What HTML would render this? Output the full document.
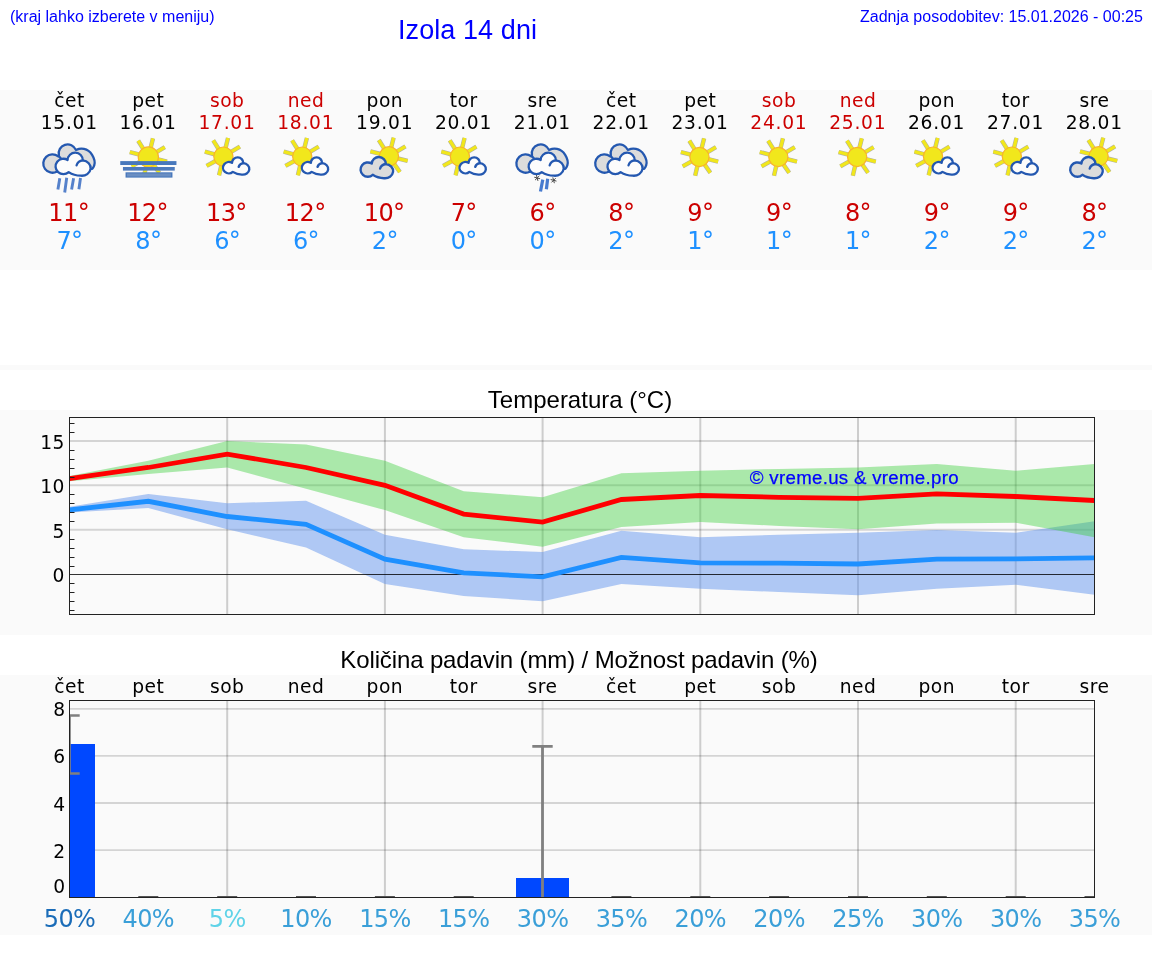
<!DOCTYPE html>
<html lang="sl"><head><meta charset="utf-8"><title>Izola 14 dni</title>
<style>
html,body{margin:0;padding:0;background:#fff}
body{width:1152px;height:975px;position:relative;overflow:hidden;font-family:"Liberation Sans",Arial,sans-serif}
.abs{position:absolute;white-space:nowrap;line-height:1;will-change:transform}
.hdr{color:#0000ff;font-size:16px}
.ttl{color:#000;font-size:24px;text-align:center;left:0;width:1152px}
.panel{position:absolute;left:0;width:1152px;background:#fafafa}
svg{position:absolute;left:0;top:0;overflow:visible;will-change:transform}
svg text{font-family:"DejaVu Sans","Liberation Sans",sans-serif}
.d{font-size:18.67px;text-anchor:middle;letter-spacing:0.5px}
.dt{letter-spacing:0.75px}
.t{font-size:24px;text-anchor:middle;letter-spacing:-0.6px}
.yl{font-size:18.67px;text-anchor:end;letter-spacing:0.4px}
</style></head><body>
<div class="abs hdr" id="h1" style="left:10px;top:9px">(kraj lahko izberete v meniju)</div>
<div class="abs hdr" id="h2" style="left:398.3px;top:17.4px;font-size:27px;letter-spacing:0.08px">Izola 14 dni</div>
<div class="abs hdr" id="h3" style="right:9px;top:9px">Zadnja posodobitev: 15.01.2026 - 00:25</div>
<div class="panel" style="top:90px;height:180px"></div>
<div class="panel" style="top:365px;height:5px"></div>
<div class="panel" style="top:410px;height:225px"></div>
<div class="panel" style="top:675px;height:260px"></div>
<div class="abs ttl" id="t1" style="top:388.3px;left:4.3px">Temperatura (°C)</div>
<div class="abs ttl" id="t2" style="top:648px;left:2.6px;letter-spacing:-0.13px">Količina padavin (mm) / Možnost padavin (%)</div>
<svg width="1152" height="975" viewBox="0 0 1152 975">
<g id="fc">
<text class="d" x="69.5" y="107.2" fill="#000">čet</text><text class="d dt" x="69.3" y="128.9" fill="#000">15.01</text><text class="t" x="68.7" y="221.3" fill="#cc0000">11°</text><text class="t" x="69.5" y="249.3" fill="#1e90ff">7°</text>
<text class="d" x="148.3" y="107.2" fill="#000">pet</text><text class="d dt" x="148.1" y="128.9" fill="#000">16.01</text><text class="t" x="147.5" y="221.3" fill="#cc0000">12°</text><text class="t" x="148.3" y="249.3" fill="#1e90ff">8°</text>
<text class="d" x="227.2" y="107.2" fill="#cc0000">sob</text><text class="d dt" x="227.0" y="128.9" fill="#cc0000">17.01</text><text class="t" x="226.4" y="221.3" fill="#cc0000">13°</text><text class="t" x="227.2" y="249.3" fill="#1e90ff">6°</text>
<text class="d" x="306.0" y="107.2" fill="#cc0000">ned</text><text class="d dt" x="305.8" y="128.9" fill="#cc0000">18.01</text><text class="t" x="305.2" y="221.3" fill="#cc0000">12°</text><text class="t" x="306.0" y="249.3" fill="#1e90ff">6°</text>
<text class="d" x="384.9" y="107.2" fill="#000">pon</text><text class="d dt" x="384.7" y="128.9" fill="#000">19.01</text><text class="t" x="384.1" y="221.3" fill="#cc0000">10°</text><text class="t" x="384.9" y="249.3" fill="#1e90ff">2°</text>
<text class="d" x="463.7" y="107.2" fill="#000">tor</text><text class="d dt" x="463.5" y="128.9" fill="#000">20.01</text><text class="t" x="463.7" y="221.3" fill="#cc0000">7°</text><text class="t" x="463.7" y="249.3" fill="#1e90ff">0°</text>
<text class="d" x="542.6" y="107.2" fill="#000">sre</text><text class="d dt" x="542.4" y="128.9" fill="#000">21.01</text><text class="t" x="542.6" y="221.3" fill="#cc0000">6°</text><text class="t" x="542.6" y="249.3" fill="#1e90ff">0°</text>
<text class="d" x="621.4" y="107.2" fill="#000">čet</text><text class="d dt" x="621.2" y="128.9" fill="#000">22.01</text><text class="t" x="621.4" y="221.3" fill="#cc0000">8°</text><text class="t" x="621.4" y="249.3" fill="#1e90ff">2°</text>
<text class="d" x="700.3" y="107.2" fill="#000">pet</text><text class="d dt" x="700.1" y="128.9" fill="#000">23.01</text><text class="t" x="700.3" y="221.3" fill="#cc0000">9°</text><text class="t" x="700.3" y="249.3" fill="#1e90ff">1°</text>
<text class="d" x="779.1" y="107.2" fill="#cc0000">sob</text><text class="d dt" x="778.9" y="128.9" fill="#cc0000">24.01</text><text class="t" x="779.1" y="221.3" fill="#cc0000">9°</text><text class="t" x="779.1" y="249.3" fill="#1e90ff">1°</text>
<text class="d" x="858.0" y="107.2" fill="#cc0000">ned</text><text class="d dt" x="857.8" y="128.9" fill="#cc0000">25.01</text><text class="t" x="858.0" y="221.3" fill="#cc0000">8°</text><text class="t" x="858.0" y="249.3" fill="#1e90ff">1°</text>
<text class="d" x="936.8" y="107.2" fill="#000">pon</text><text class="d dt" x="936.6" y="128.9" fill="#000">26.01</text><text class="t" x="936.8" y="221.3" fill="#cc0000">9°</text><text class="t" x="936.8" y="249.3" fill="#1e90ff">2°</text>
<text class="d" x="1015.7" y="107.2" fill="#000">tor</text><text class="d dt" x="1015.5" y="128.9" fill="#000">27.01</text><text class="t" x="1015.7" y="221.3" fill="#cc0000">9°</text><text class="t" x="1015.7" y="249.3" fill="#1e90ff">2°</text>
<text class="d" x="1094.5" y="107.2" fill="#000">sre</text><text class="d dt" x="1094.3" y="128.9" fill="#000">28.01</text><text class="t" x="1094.5" y="221.3" fill="#cc0000">8°</text><text class="t" x="1094.5" y="249.3" fill="#1e90ff">2°</text>
</g>
<g id="icons">
<g transform="translate(37.5 133)"><path d="M19.2 38.7A9.2 9.2 0 1 1 20.7 23.3L21.4 22.3A8.95 8.95 0 0 1 38.4 16.9L39.3 16.6C41.5 15.6 44 15.5 46.5 15.9C50 16.6 52.7 18.8 54.6 21.8C56.9 25.5 57.8 29.5 56.7 32.5C56.2 34 55.5 35 54.8 35.8L36 36Z" fill="#dcdcdc" stroke="#2458b0" stroke-width="2.3" stroke-linejoin="round"/><path d="M21 22.8L23.6 25.8" fill="none" stroke="#2458b0" stroke-width="2.3" stroke-linecap="round"/><path d="M31.2 39.1A7.8 7.7 0 1 1 30.1 27A7.6 7.5 0 0 1 45.3 27.4A8.8 7.7 0 1 1 43.3 42.7Q36.5 42.7 31.2 39.1Z" fill="#fcfcfc" stroke="#2458b0" stroke-width="2.3" stroke-linejoin="round"/><path d="M39.1 32.3C39.8 29.8 42 27.8 45.3 27.4" fill="none" stroke="#2458b0" stroke-width="2.3" stroke-linecap="round"/><path d="M22.3 45.3L20.4 56.5M29.2 44.7L27.2 59.5M36.1 45.3L34.1 56.5M43 45L41.4 56.2" stroke="#3d70c4" stroke-width="2.9" fill="none" stroke-opacity="0.88"/></g>
<g transform="translate(116.35 133)"><path d="M27.23 16.37L21.83 7.72M34.18 15.27L36.64 5.37M39.71 19.36L48.46 14.11M40.73 26.18L50.63 28.64M37.1 31.42L42.87 39.82M29.98 32.77L27.68 42.71M24.13 28.36L15.21 33.31M23.31 21.67L13.45 19.03" stroke="#8e8e84" stroke-opacity="0.7" stroke-width="4.4" fill="none"/><path d="M27.23 16.37L21.83 7.72M34.18 15.27L36.64 5.37M39.71 19.36L48.46 14.11M40.73 26.18L50.63 28.64M37.1 31.42L42.87 39.82M29.98 32.77L27.68 42.71M24.13 28.36L15.21 33.31M23.31 21.67L13.45 19.03" stroke="#f1e71c" stroke-width="3.3" fill="none"/><circle cx="32" cy="24" r="10.1" fill="#f1e71c" stroke="#f8b42c" stroke-width="1.2"/><rect x="3.9" y="28.1" width="56.2" height="3.9" fill="#4878bc"/><rect x="6.6" y="34" width="51.8" height="3.6" fill="#4d7abc"/><rect x="9.2" y="39.3" width="46.9" height="5.3" fill="#4878bc"/><rect x="10.6" y="40.4" width="44.1" height="3.1" fill="#6a8ec2"/></g>
<g transform="translate(195.19 133)"><path d="M23.43 15.97L18.03 7.32M30.38 14.87L32.84 4.97M35.91 18.96L44.66 13.71M26.18 32.37L23.88 42.31M20.33 27.96L11.41 32.91M19.51 21.27L9.65 18.63" stroke="#8e8e84" stroke-opacity="0.7" stroke-width="4.4" fill="none"/><path d="M23.43 15.97L18.03 7.32M30.38 14.87L32.84 4.97M35.91 18.96L44.66 13.71M26.18 32.37L23.88 42.31M20.33 27.96L11.41 32.91M19.51 21.27L9.65 18.63" stroke="#f1e71c" stroke-width="3.3" fill="none"/><circle cx="28.2" cy="23.6" r="9.6" fill="#f1e71c" stroke="#f8b42c" stroke-width="1.2"/><path d="M37.61 38.89A5.81 5.74 0 1 1 36.79 29.87A5.66 5.59 0 0 1 48.11 30.17A6.56 5.74 0 1 1 46.62 41.57Q41.56 41.57 37.61 38.89Z" fill="#fcfcfc" stroke="#2458b0" stroke-width="2.35" stroke-linejoin="round"/><path d="M43.5 33.82C44.02 31.96 45.66 30.47 48.11 30.17" fill="none" stroke="#2458b0" stroke-width="2.35" stroke-linecap="round"/></g>
<g transform="translate(274.04 133)"><path d="M23.43 15.97L18.03 7.32M30.38 14.87L32.84 4.97M35.91 18.96L44.66 13.71M26.18 32.37L23.88 42.31M20.33 27.96L11.41 32.91M19.51 21.27L9.65 18.63" stroke="#8e8e84" stroke-opacity="0.7" stroke-width="4.4" fill="none"/><path d="M23.43 15.97L18.03 7.32M30.38 14.87L32.84 4.97M35.91 18.96L44.66 13.71M26.18 32.37L23.88 42.31M20.33 27.96L11.41 32.91M19.51 21.27L9.65 18.63" stroke="#f1e71c" stroke-width="3.3" fill="none"/><circle cx="28.2" cy="23.6" r="9.6" fill="#f1e71c" stroke="#f8b42c" stroke-width="1.2"/><path d="M37.61 38.89A5.81 5.74 0 1 1 36.79 29.87A5.66 5.59 0 0 1 48.11 30.17A6.56 5.74 0 1 1 46.62 41.57Q41.56 41.57 37.61 38.89Z" fill="#fcfcfc" stroke="#2458b0" stroke-width="2.35" stroke-linejoin="round"/><path d="M43.5 33.82C44.02 31.96 45.66 30.47 48.11 30.17" fill="none" stroke="#2458b0" stroke-width="2.35" stroke-linecap="round"/></g>
<g transform="translate(352.88 133)"><path d="M31.33 15.67L25.93 7.02M38.28 14.57L40.74 4.67M43.81 18.66L52.56 13.41M44.83 25.48L54.73 27.94M41.2 30.72L46.97 39.12M27.41 20.97L17.55 18.33" stroke="#8e8e84" stroke-opacity="0.7" stroke-width="4.4" fill="none"/><path d="M31.33 15.67L25.93 7.02M38.28 14.57L40.74 4.67M43.81 18.66L52.56 13.41M44.83 25.48L54.73 27.94M41.2 30.72L46.97 39.12M27.41 20.97L17.55 18.33" stroke="#f1e71c" stroke-width="3.3" fill="none"/><circle cx="36.1" cy="23.3" r="9.6" fill="#f1e71c" stroke="#f8b42c" stroke-width="1.2"/><path d="M19.87 41.85A7.25 7.16 0 1 1 18.85 30.59A7.07 6.98 0 0 1 32.98 30.97A8.18 7.16 0 1 1 31.12 45.2Q24.8 45.2 19.87 41.85Z" fill="#dcdcdc" stroke="#2458b0" stroke-width="2.4" stroke-linejoin="round"/><path d="M27.22 35.52C27.87 33.2 29.91 31.34 32.98 30.97" fill="none" stroke="#2458b0" stroke-width="2.4" stroke-linecap="round"/></g>
<g transform="translate(431.73 133)"><path d="M23.43 15.97L18.03 7.32M30.38 14.87L32.84 4.97M35.91 18.96L44.66 13.71M26.18 32.37L23.88 42.31M20.33 27.96L11.41 32.91M19.51 21.27L9.65 18.63" stroke="#8e8e84" stroke-opacity="0.7" stroke-width="4.4" fill="none"/><path d="M23.43 15.97L18.03 7.32M30.38 14.87L32.84 4.97M35.91 18.96L44.66 13.71M26.18 32.37L23.88 42.31M20.33 27.96L11.41 32.91M19.51 21.27L9.65 18.63" stroke="#f1e71c" stroke-width="3.3" fill="none"/><circle cx="28.2" cy="23.6" r="9.6" fill="#f1e71c" stroke="#f8b42c" stroke-width="1.2"/><path d="M37.61 38.89A5.81 5.74 0 1 1 36.79 29.87A5.66 5.59 0 0 1 48.11 30.17A6.56 5.74 0 1 1 46.62 41.57Q41.56 41.57 37.61 38.89Z" fill="#fcfcfc" stroke="#2458b0" stroke-width="2.35" stroke-linejoin="round"/><path d="M43.5 33.82C44.02 31.96 45.66 30.47 48.11 30.17" fill="none" stroke="#2458b0" stroke-width="2.35" stroke-linecap="round"/></g>
<g transform="translate(510.58 133)"><path d="M19.2 38.7A9.2 9.2 0 1 1 20.7 23.3L21.4 22.3A8.95 8.95 0 0 1 38.4 16.9L39.3 16.6C41.5 15.6 44 15.5 46.5 15.9C50 16.6 52.7 18.8 54.6 21.8C56.9 25.5 57.8 29.5 56.7 32.5C56.2 34 55.5 35 54.8 35.8L36 36Z" fill="#dcdcdc" stroke="#2458b0" stroke-width="2.3" stroke-linejoin="round"/><path d="M21 22.8L23.6 25.8" fill="none" stroke="#2458b0" stroke-width="2.3" stroke-linecap="round"/><path d="M31.2 39.1A7.8 7.7 0 1 1 30.1 27A7.6 7.5 0 0 1 45.3 27.4A8.8 7.7 0 1 1 43.3 42.7Q36.5 42.7 31.2 39.1Z" fill="#fcfcfc" stroke="#2458b0" stroke-width="2.3" stroke-linejoin="round"/><path d="M39.1 32.3C39.8 29.8 42 27.8 45.3 27.4" fill="none" stroke="#2458b0" stroke-width="2.3" stroke-linecap="round"/><path d="M32.2 46.6L29.9 58.5M37.1 45.7L35.8 56.2" stroke="#3d74cc" stroke-width="3.2" fill="none" stroke-opacity="0.95"/><path d="M23.7 44.22L29.5 45.78M25.82 42.1L27.38 47.9M28.72 42.88L24.48 47.12" stroke="#4a4a4a" stroke-width="1" fill="none"/><path d="M40.1 46.52L45.9 48.08M42.22 44.4L43.78 50.2M45.12 45.18L40.88 49.42" stroke="#4a4a4a" stroke-width="1" fill="none"/></g>
<g transform="translate(589.42 133)"><path d="M19.2 38.7A9.2 9.2 0 1 1 20.7 23.3L21.4 22.3A8.95 8.95 0 0 1 38.4 16.9L39.3 16.6C41.5 15.6 44 15.5 46.5 15.9C50 16.6 52.7 18.8 54.6 21.8C56.9 25.5 57.8 29.5 56.7 32.5C56.2 34 55.5 35 54.8 35.8L36 36Z" fill="#dcdcdc" stroke="#2458b0" stroke-width="2.3" stroke-linejoin="round"/><path d="M21 22.8L23.6 25.8" fill="none" stroke="#2458b0" stroke-width="2.3" stroke-linecap="round"/><path d="M31.2 39.1A7.8 7.7 0 1 1 30.1 27A7.6 7.5 0 0 1 45.3 27.4A8.8 7.7 0 1 1 43.3 42.7Q36.5 42.7 31.2 39.1Z" fill="#fcfcfc" stroke="#2458b0" stroke-width="2.3" stroke-linejoin="round"/><path d="M39.1 32.3C39.8 29.8 42 27.8 45.3 27.4" fill="none" stroke="#2458b0" stroke-width="2.3" stroke-linecap="round"/></g>
<g transform="translate(668.27 133)"><path d="M26.43 16.37L21.03 7.72M33.38 15.27L35.84 5.37M38.91 19.36L47.66 14.11M39.93 26.18L49.83 28.64M36.3 31.42L42.07 39.82M29.18 32.77L26.88 42.71M23.33 28.36L14.41 33.31M22.51 21.67L12.65 19.03" stroke="#8e8e84" stroke-opacity="0.7" stroke-width="4.4" fill="none"/><path d="M26.43 16.37L21.03 7.72M33.38 15.27L35.84 5.37M38.91 19.36L47.66 14.11M39.93 26.18L49.83 28.64M36.3 31.42L42.07 39.82M29.18 32.77L26.88 42.71M23.33 28.36L14.41 33.31M22.51 21.67L12.65 19.03" stroke="#f1e71c" stroke-width="3.3" fill="none"/><circle cx="31.2" cy="24" r="9.6" fill="#f1e71c" stroke="#f8b42c" stroke-width="1.2"/></g>
<g transform="translate(747.12 133)"><path d="M26.43 16.37L21.03 7.72M33.38 15.27L35.84 5.37M38.91 19.36L47.66 14.11M39.93 26.18L49.83 28.64M36.3 31.42L42.07 39.82M29.18 32.77L26.88 42.71M23.33 28.36L14.41 33.31M22.51 21.67L12.65 19.03" stroke="#8e8e84" stroke-opacity="0.7" stroke-width="4.4" fill="none"/><path d="M26.43 16.37L21.03 7.72M33.38 15.27L35.84 5.37M38.91 19.36L47.66 14.11M39.93 26.18L49.83 28.64M36.3 31.42L42.07 39.82M29.18 32.77L26.88 42.71M23.33 28.36L14.41 33.31M22.51 21.67L12.65 19.03" stroke="#f1e71c" stroke-width="3.3" fill="none"/><circle cx="31.2" cy="24" r="9.6" fill="#f1e71c" stroke="#f8b42c" stroke-width="1.2"/></g>
<g transform="translate(825.96 133)"><path d="M26.43 16.37L21.03 7.72M33.38 15.27L35.84 5.37M38.91 19.36L47.66 14.11M39.93 26.18L49.83 28.64M36.3 31.42L42.07 39.82M29.18 32.77L26.88 42.71M23.33 28.36L14.41 33.31M22.51 21.67L12.65 19.03" stroke="#8e8e84" stroke-opacity="0.7" stroke-width="4.4" fill="none"/><path d="M26.43 16.37L21.03 7.72M33.38 15.27L35.84 5.37M38.91 19.36L47.66 14.11M39.93 26.18L49.83 28.64M36.3 31.42L42.07 39.82M29.18 32.77L26.88 42.71M23.33 28.36L14.41 33.31M22.51 21.67L12.65 19.03" stroke="#f1e71c" stroke-width="3.3" fill="none"/><circle cx="31.2" cy="24" r="9.6" fill="#f1e71c" stroke="#f8b42c" stroke-width="1.2"/></g>
<g transform="translate(904.81 133)"><path d="M23.43 15.97L18.03 7.32M30.38 14.87L32.84 4.97M35.91 18.96L44.66 13.71M26.18 32.37L23.88 42.31M20.33 27.96L11.41 32.91M19.51 21.27L9.65 18.63" stroke="#8e8e84" stroke-opacity="0.7" stroke-width="4.4" fill="none"/><path d="M23.43 15.97L18.03 7.32M30.38 14.87L32.84 4.97M35.91 18.96L44.66 13.71M26.18 32.37L23.88 42.31M20.33 27.96L11.41 32.91M19.51 21.27L9.65 18.63" stroke="#f1e71c" stroke-width="3.3" fill="none"/><circle cx="28.2" cy="23.6" r="9.6" fill="#f1e71c" stroke="#f8b42c" stroke-width="1.2"/><path d="M37.61 38.89A5.81 5.74 0 1 1 36.79 29.87A5.66 5.59 0 0 1 48.11 30.17A6.56 5.74 0 1 1 46.62 41.57Q41.56 41.57 37.61 38.89Z" fill="#fcfcfc" stroke="#2458b0" stroke-width="2.35" stroke-linejoin="round"/><path d="M43.5 33.82C44.02 31.96 45.66 30.47 48.11 30.17" fill="none" stroke="#2458b0" stroke-width="2.35" stroke-linecap="round"/></g>
<g transform="translate(983.65 133)"><path d="M23.43 15.97L18.03 7.32M30.38 14.87L32.84 4.97M35.91 18.96L44.66 13.71M26.18 32.37L23.88 42.31M20.33 27.96L11.41 32.91M19.51 21.27L9.65 18.63" stroke="#8e8e84" stroke-opacity="0.7" stroke-width="4.4" fill="none"/><path d="M23.43 15.97L18.03 7.32M30.38 14.87L32.84 4.97M35.91 18.96L44.66 13.71M26.18 32.37L23.88 42.31M20.33 27.96L11.41 32.91M19.51 21.27L9.65 18.63" stroke="#f1e71c" stroke-width="3.3" fill="none"/><circle cx="28.2" cy="23.6" r="9.6" fill="#f1e71c" stroke="#f8b42c" stroke-width="1.2"/><path d="M37.61 38.89A5.81 5.74 0 1 1 36.79 29.87A5.66 5.59 0 0 1 48.11 30.17A6.56 5.74 0 1 1 46.62 41.57Q41.56 41.57 37.61 38.89Z" fill="#fcfcfc" stroke="#2458b0" stroke-width="2.35" stroke-linejoin="round"/><path d="M43.5 33.82C44.02 31.96 45.66 30.47 48.11 30.17" fill="none" stroke="#2458b0" stroke-width="2.35" stroke-linecap="round"/></g>
<g transform="translate(1062.5 133)"><path d="M31.33 15.67L25.93 7.02M38.28 14.57L40.74 4.67M43.81 18.66L52.56 13.41M44.83 25.48L54.73 27.94M41.2 30.72L46.97 39.12M27.41 20.97L17.55 18.33" stroke="#8e8e84" stroke-opacity="0.7" stroke-width="4.4" fill="none"/><path d="M31.33 15.67L25.93 7.02M38.28 14.57L40.74 4.67M43.81 18.66L52.56 13.41M44.83 25.48L54.73 27.94M41.2 30.72L46.97 39.12M27.41 20.97L17.55 18.33" stroke="#f1e71c" stroke-width="3.3" fill="none"/><circle cx="36.1" cy="23.3" r="9.6" fill="#f1e71c" stroke="#f8b42c" stroke-width="1.2"/><path d="M19.87 41.85A7.25 7.16 0 1 1 18.85 30.59A7.07 6.98 0 0 1 32.98 30.97A8.18 7.16 0 1 1 31.12 45.2Q24.8 45.2 19.87 41.85Z" fill="#dcdcdc" stroke="#2458b0" stroke-width="2.4" stroke-linejoin="round"/><path d="M27.22 35.52C27.87 33.2 29.91 31.34 32.98 30.97" fill="none" stroke="#2458b0" stroke-width="2.4" stroke-linecap="round"/></g>
</g>
<g id="tchart">
<line x1="69.5" x2="1094.5" y1="529.7" y2="529.7" stroke="#000" stroke-opacity="0.15" stroke-width="2"/><line x1="69.5" x2="1094.5" y1="485.3" y2="485.3" stroke="#000" stroke-opacity="0.15" stroke-width="2"/><line x1="69.5" x2="1094.5" y1="440.9" y2="440.9" stroke="#000" stroke-opacity="0.15" stroke-width="2"/><line x1="227.2" x2="227.2" y1="417.5" y2="614.5" stroke="#000" stroke-opacity="0.18" stroke-width="2"/><line x1="384.9" x2="384.9" y1="417.5" y2="614.5" stroke="#000" stroke-opacity="0.18" stroke-width="2"/><line x1="542.6" x2="542.6" y1="417.5" y2="614.5" stroke="#000" stroke-opacity="0.18" stroke-width="2"/><line x1="700.3" x2="700.3" y1="417.5" y2="614.5" stroke="#000" stroke-opacity="0.18" stroke-width="2"/><line x1="858.0" x2="858.0" y1="417.5" y2="614.5" stroke="#000" stroke-opacity="0.18" stroke-width="2"/><line x1="1015.7" x2="1015.7" y1="417.5" y2="614.5" stroke="#000" stroke-opacity="0.18" stroke-width="2"/>
<polygon points="69.5,506.7 148.3,494.1 227.2,503.2 306.0,500.8 384.9,534.7 463.7,549.3 542.6,552.0 621.4,530.7 700.3,537.3 779.1,534.7 858.0,532.8 936.8,530.1 1015.7,532.8 1094.5,521.3 1094.5,594.7 1015.7,584.8 936.8,588.8 858.0,595.2 779.1,592.0 700.3,588.8 621.4,584.0 542.6,601.3 463.7,596.0 384.9,584.0 306.0,547.5 227.2,529.3 148.3,508.0 69.5,512.5" fill="#6495ed" fill-opacity="0.5"/>
<polygon points="69.5,476.0 148.3,460.8 227.2,441.0 306.0,444.5 384.9,460.8 463.7,491.2 542.6,497.3 621.4,473.3 700.3,470.7 779.1,469.0 858.0,467.5 936.8,464.0 1015.7,470.7 1094.5,464.0 1094.5,537.3 1015.7,522.7 936.8,523.5 858.0,529.3 779.1,526.0 700.3,521.9 621.4,526.9 542.6,546.7 463.7,537.3 384.9,510.1 306.0,488.8 227.2,467.5 148.3,473.9 69.5,481.3" fill="#32cd32" fill-opacity="0.4"/>
<line x1="69.5" x2="1094.5" y1="574.5" y2="574.5" stroke="#000" stroke-opacity="0.8" stroke-width="1"/>
<polyline points="69.5,478.7 148.3,467.5 227.2,454.1 306.0,467.5 384.9,485.3 463.7,514.1 542.6,522.1 621.4,499.5 700.3,495.5 779.1,497.3 858.0,498.4 936.8,493.9 1015.7,496.5 1094.5,500.5" fill="none" stroke="#ff0000" stroke-width="4.8" stroke-linejoin="miter"/>
<polyline points="69.5,509.9 148.3,501.3 227.2,516.5 306.0,524.3 384.9,559.2 463.7,572.8 542.6,576.8 621.4,557.3 700.3,562.9 779.1,563.2 858.0,564.0 936.8,559.2 1015.7,558.9 1094.5,557.9" fill="none" stroke="#1e90ff" stroke-width="4.8" stroke-linejoin="miter"/>
<path d="M69.5 610.5h5M69.5 601.5h5M69.5 592.5h5M69.5 583.5h5M69.5 566.5h5M69.5 557.5h5M69.5 548.5h5M69.5 539.5h5M69.5 521.5h5M69.5 512.5h5M69.5 503.5h5M69.5 494.5h5M69.5 477.5h5M69.5 468.5h5M69.5 459.5h5M69.5 450.5h5M69.5 432.5h5M69.5 423.5h5" stroke="#222" stroke-width="1" fill="none"/>
<rect x="69.5" y="417.5" width="1025.0" height="197.0" fill="none" stroke="#222" stroke-width="1"/>
<text class="yl" x="64.8" y="582.2">0</text><text class="yl" x="64.8" y="537.8">5</text><text class="yl" x="64.8" y="493.4">10</text><text class="yl" x="64.8" y="449.0">15</text>
<text x="749.8" y="483.5" fill="#0000ff" stroke="#0000ff" stroke-width="0.25" style="font-family:'Liberation Sans',Arial,sans-serif;font-size:18.67px;letter-spacing:0.3px">© vreme.us &amp; vreme.pro</text>
</g>
<g id="pchart">
<line x1="69.5" x2="1094.5" y1="850.1" y2="850.1" stroke="#000" stroke-opacity="0.15" stroke-width="1.8"/><line x1="69.5" x2="1094.5" y1="803.0" y2="803.0" stroke="#000" stroke-opacity="0.15" stroke-width="1.8"/><line x1="69.5" x2="1094.5" y1="755.9" y2="755.9" stroke="#000" stroke-opacity="0.15" stroke-width="1.8"/><line x1="69.5" x2="1094.5" y1="708.8" y2="708.8" stroke="#000" stroke-opacity="0.15" stroke-width="1.8"/><line x1="227.2" x2="227.2" y1="700.5" y2="897.5" stroke="#000" stroke-opacity="0.18" stroke-width="2"/><line x1="384.9" x2="384.9" y1="700.5" y2="897.5" stroke="#000" stroke-opacity="0.18" stroke-width="2"/><line x1="542.6" x2="542.6" y1="700.5" y2="897.5" stroke="#000" stroke-opacity="0.18" stroke-width="2"/><line x1="700.3" x2="700.3" y1="700.5" y2="897.5" stroke="#000" stroke-opacity="0.18" stroke-width="2"/><line x1="858.0" x2="858.0" y1="700.5" y2="897.5" stroke="#000" stroke-opacity="0.18" stroke-width="2"/><line x1="1015.7" x2="1015.7" y1="700.5" y2="897.5" stroke="#000" stroke-opacity="0.18" stroke-width="2"/>
<rect x="69.5" y="744" width="25.5" height="153.5" fill="#0048ff"/>
<rect x="516" y="878" width="53" height="19.5" fill="#0048ff"/>
<clipPath id="pc"><rect x="69.5" y="700.5" width="1025.0" height="197.0"/></clipPath>
<path clip-path="url(#pc)" d="M69.5 715.5V773.5M69.5 715.5h10.2M69.5 773.5h10.2" stroke="#808080" stroke-width="2.7" fill="none"/>
<path d="M542.5 746.4V897.5M532.3 746.4h20.4" stroke="#808080" stroke-width="2.8" fill="none"/>
<path d="M138.3 896.8h20M217.2 896.8h20M296.0 896.8h20M374.9 896.8h20M453.7 896.8h20M611.4 896.8h20M690.3 896.8h20M769.1 896.8h20M848.0 896.8h20M926.8 896.8h20M1005.7 896.8h20M1084.5 896.8h10" stroke="#555" stroke-width="1.4" fill="none"/>
<rect x="69.5" y="700.5" width="1025.0" height="197.0" fill="none" stroke="#222" stroke-width="1"/>
<text class="yl" x="65.6" y="857.6">2</text><text class="yl" x="65.6" y="810.5">4</text><text class="yl" x="65.6" y="763.4">6</text><text class="yl" x="65.6" y="716.3">8</text><text class="yl" x="65.6" y="893.2">0</text>
<text class="d" x="69.5" y="692.9">čet</text><text class="d" x="148.3" y="692.9">pet</text><text class="d" x="227.2" y="692.9">sob</text><text class="d" x="306.0" y="692.9">ned</text><text class="d" x="384.9" y="692.9">pon</text><text class="d" x="463.7" y="692.9">tor</text><text class="d" x="542.6" y="692.9">sre</text><text class="d" x="621.4" y="692.9">čet</text><text class="d" x="700.3" y="692.9">pet</text><text class="d" x="779.1" y="692.9">sob</text><text class="d" x="858.0" y="692.9">ned</text><text class="d" x="936.8" y="692.9">pon</text><text class="d" x="1015.7" y="692.9">tor</text><text class="d" x="1094.5" y="692.9">sre</text>
<text class="t" x="69.5" y="926.8" fill="#1a6cb8">50%</text><text class="t" x="148.3" y="926.8" fill="#3a9fd8">40%</text><text class="t" x="227.2" y="926.8" fill="#5fd3e8">5%</text><text class="t" x="306.0" y="926.8" fill="#3a9fd8">10%</text><text class="t" x="384.9" y="926.8" fill="#3a9fd8">15%</text><text class="t" x="463.7" y="926.8" fill="#3a9fd8">15%</text><text class="t" x="542.6" y="926.8" fill="#3a9fd8">30%</text><text class="t" x="621.4" y="926.8" fill="#3a9fd8">35%</text><text class="t" x="700.3" y="926.8" fill="#3a9fd8">20%</text><text class="t" x="779.1" y="926.8" fill="#3a9fd8">20%</text><text class="t" x="858.0" y="926.8" fill="#3a9fd8">25%</text><text class="t" x="936.8" y="926.8" fill="#3a9fd8">30%</text><text class="t" x="1015.7" y="926.8" fill="#3a9fd8">30%</text><text class="t" x="1094.5" y="926.8" fill="#3a9fd8">35%</text>
</g>
</svg>
</body></html>
